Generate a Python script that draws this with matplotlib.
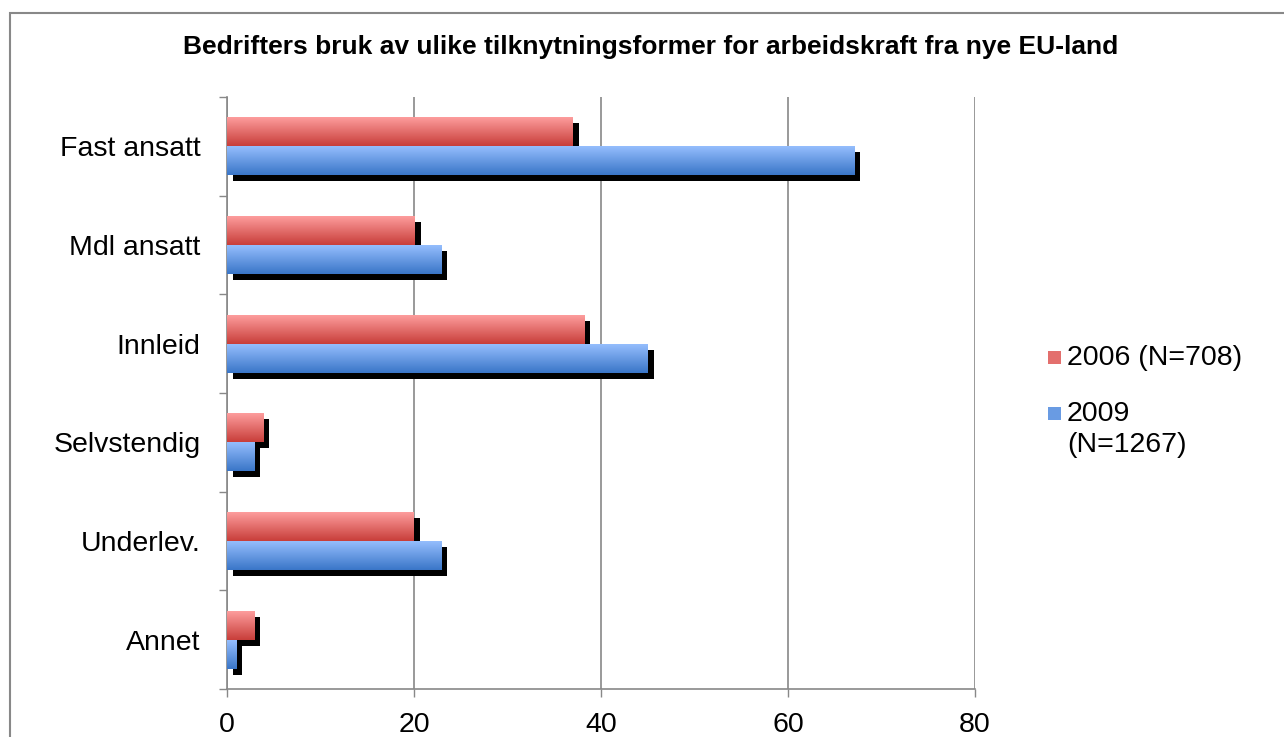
import numpy as np
import matplotlib
matplotlib.use('Agg')
import matplotlib.pyplot as plt
from matplotlib.patches import Rectangle
from matplotlib.transforms import ScaledTranslation

plt.rcParams['font.family'] = ['Liberation Sans', 'DejaVu Sans']

# data
categories = ['Fast ansatt', 'Mdl ansatt', 'Innleid', 'Selvstendig', 'Underlev.', 'Annet']
values_2006 = [37.0, 20.1, 38.2, 3.9, 20.0, 2.9]
values_2009 = [67.1, 22.9, 45.0, 2.9, 22.9, 1.0]
labels = ['2006 (N=708)', '2009\n(N=1267)']
xticks = [0, 20, 40, 60, 80]
title = 'Bedrifters bruk av ulike tilknytningsformer for arbeidskraft fra nye EU-land'

red_top, red_bot = np.array([255, 160, 160]) / 255, np.array([200, 62, 58]) / 255
blue_top, blue_bot = np.array([152, 192, 255]) / 255, np.array([58, 118, 200]) / 255

W, H = 1284, 737
fig = plt.figure(figsize=(12.84, 7.37), dpi=100)
ax = fig.add_axes([227 / W, 1 - 689 / H, (975 - 227) / W, (689 - 97) / H])

y = np.arange(len(categories))
h = 0.295

# shadows (black copies shifted right/down)
shadow_tr = ax.transData + ScaledTranslation(4.3 / 72, -4.3 / 72, fig.dpi_scale_trans)
for vals, off in [(values_2006, -h / 2), (values_2009, h / 2)]:
    sb = ax.barh(y + off, vals, height=h, color='black', zorder=2)
    for p in sb:
        p.set_transform(shadow_tr)


def gradient_bars(vals, off, top, bot):
    bars = ax.barh(y + off, vals, height=h, facecolor='none', edgecolor='none', zorder=3)
    grad = np.linspace(0, 1, 64)[:, None, None]
    img = top * (1 - grad) + bot * grad
    img = np.repeat(img, 2, axis=1)
    for p, v, yy in zip(bars, vals, y + off):
        im = ax.imshow(img, extent=[0, v, yy + h / 2, yy - h / 2], aspect='auto',
                       origin='upper', zorder=3, interpolation='bilinear')
        im.set_clip_path(p)


gradient_bars(values_2006, -h / 2, red_top, red_bot)
gradient_bars(values_2009, h / 2, blue_top, blue_bot)

ax.set_xlim(0, 80)
ax.set_ylim(len(categories) - 0.5, -0.5)
ax.set_xticks(xticks)
ax.set_xticklabels([str(t) for t in xticks], fontsize=20.5)
ax.set_yticks(np.arange(-0.5, len(categories), 1.0))
ax.set_yticklabels([])
ax.set_yticks(y, minor=True)
ax.set_yticklabels(categories, minor=True, fontsize=20.5)
ax.tick_params(axis='y', which='minor', length=0, pad=19)
ax.tick_params(axis='y', which='major', length=6, width=1, color='#888888', direction='out')
ax.tick_params(axis='x', length=6, width=1, color='#888888', pad=10.5)

ax.grid(axis='x', color='#888888', linewidth=1.2, zorder=1)
ax.set_axisbelow(True)
for s in ['top', 'right']:
    ax.spines[s].set_visible(False)
for s in ['left', 'bottom']:
    ax.spines[s].set_color('#888888')
    ax.spines[s].set_linewidth(1.2)

# legend, drawn by hand so the marker sits on the first line of each label
leg_colors = [(red_top + red_bot) / 2, (blue_top + blue_bot) / 2]
for lab, col, ytop in zip(labels, leg_colors, [345, 401]):
    fig.add_artist(Rectangle((1048 / W, 1 - (ytop + 19) / H), 13 / W, 13 / H,
                             transform=fig.transFigure, facecolor=col, edgecolor='none'))
    fig.text(1067 / W, 1 - ytop / H, lab, ha='left', va='top', fontsize=20.5,
             linespacing=1.25)

fig.text(651 / W, 1 - 47 / H, title, ha='center', va='center', fontsize=19,
         fontweight='bold')

# outer chart frame
fig.add_artist(Rectangle((10.5 / W, -0.05), 1.1, 1 - 13 / H + 0.05,
                         transform=fig.transFigure, fill=False, edgecolor='#888888',
                         linewidth=1.5))

fig.savefig('out.png', dpi=100)
